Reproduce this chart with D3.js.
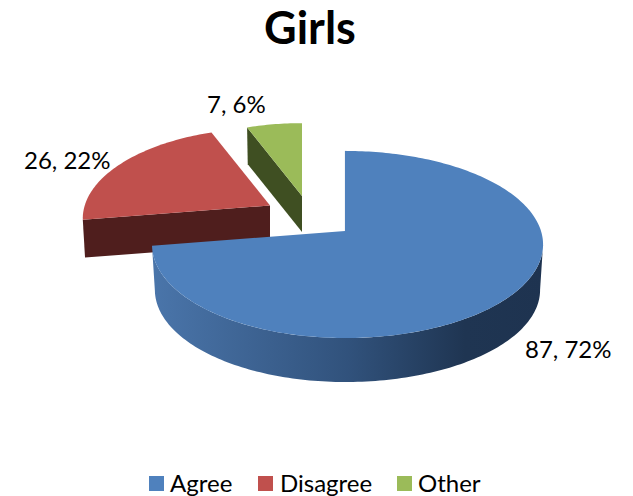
<!DOCTYPE html>
<html>
<head>
<meta charset="utf-8">
<script src="https://cdn.jsdelivr.net/npm/d3@7"></script>
<style>
  body { margin: 0; background: #fff; }
  text { font-family: Lato, "Open Sans", sans-serif; fill: #000; }
</style>
</head>
<body>
<svg id="chart" width="633" height="496"></svg>
<script>
// values
var categories = ['Agree', 'Disagree', 'Other'];
var counts = [87, 26, 7];
var percents = [72, 22, 6];
var topColors = ['#4f81bd', '#c0504d', '#9bbb59'];
var wallColors = ['#1f3552', '#4f1e1d', '#3f4f22'];

var width = 633, height = 496;
var persp = 0.144;      // how much closer the front of the pie is
var radiusY = 91.6;
var radiusL = 191, radiusR = 196;

// where each exploded slice sits, top face apex
var sliceGeo = [
    { ax: 345, ay: 231, scale: 1, depth: 45.6, lower: 0.985 },
    { ax: 270, ay: 205.5, scale: 0.97, depth: 38, lower: 0.988 },
    { ax: 302, ay: 196, scale: 0.91, depth: 36, lower: 0.988 }
];
var labelPos = [
    { x: 525, y: 358 },
    { x: 24, y: 169 },
    { x: 207, y: 113 }
];
var legendPos = [
    { x: 149, tx: 170 },
    { x: 258, tx: 280 },
    { x: 397, tx: 418 }
];

var svg = d3.select('#chart');

var pie = d3.pie().sort(null);
var slices = pie(counts);

// disk angle -> screen, bottom=true gives the lower rim
function project(geo, angle, bottom) {
    var u = Math.sin(angle), v = Math.cos(angle);
    var s = geo.scale / (1 + persp * v) * (bottom ? geo.lower : 1);
    var rx = u < 0 ? radiusL : radiusR;
    return [geo.ax + rx * u * s, geo.ay + (bottom ? geo.depth : 0) - radiusY * v * s];
}

function arcPoints(geo, a0, a1, bottom) {
    var n = Math.max(2, Math.ceil(Math.abs(a1 - a0) / 0.02));
    return d3.range(n + 1).map(function (i) {
        return project(geo, a0 + (a1 - a0) * i / n, bottom);
    });
}

var line = d3.line();

var defs = svg.append('defs');
var grad = defs.append('linearGradient')
    .attr('id', 'blueWall')
    .attr('gradientUnits', 'userSpaceOnUse')
    .attr('x1', 153).attr('x2', 543).attr('y1', 0).attr('y2', 0);
grad.append('stop').attr('offset', '0%').attr('stop-color', '#4a75aa');
grad.append('stop').attr('offset', '50%').attr('stop-color', '#31527c');
grad.append('stop').attr('offset', '80%').attr('stop-color', '#1f3552');
grad.append('stop').attr('offset', '100%').attr('stop-color', '#1e3350');

// draw back slices first, blue on top of them
[2, 1, 0].forEach(function (i) {
    var d = slices[i], geo = sliceGeo[i];
    var g = svg.append('g').attr('class', 'slice-' + categories[i]);
    var apex = [geo.ax, geo.ay];
    var apexLow = [geo.ax, geo.ay + geo.depth];

    if (i === 0) {
        // curved outer wall, from the right silhouette round to the tip
        var startWall = Math.acos(-persp);
        var upper = arcPoints(geo, startWall, d.endAngle, false);
        var lowerRim = arcPoints(geo, startWall, d.endAngle, true).reverse();
        g.append('path')
            .attr('d', line(upper.concat(lowerRim)) + 'Z')
            .attr('fill', 'url(#blueWall)');
        // thin inner wall along the vertical cut
        g.append('path')
            .attr('d', line([project(geo, d.startAngle, false), apex]))
            .attr('fill', 'none')
            .attr('stroke', wallColors[0])
            .attr('stroke-width', 1.5)
            .attr('transform', 'translate(0.7,0)');
    } else {
        // flat cut face looking at the viewer
        g.append('path')
            .attr('d', line([apex, project(geo, d.startAngle, false), project(geo, d.startAngle, true), apexLow]) + 'Z')
            .attr('fill', wallColors[i]);
    }

    g.append('path')
        .attr('d', line([apex].concat(arcPoints(geo, d.startAngle, d.endAngle, false))) + 'Z')
        .attr('fill', topColors[i]);
});

svg.append('text')
    .attr('x', 310).attr('y', 44)
    .attr('text-anchor', 'middle')
    .attr('font-size', 45)
    .attr('font-weight', 700)
    .text('Girls');

svg.selectAll('.data-label')
    .data(categories)
    .enter().append('text')
    .attr('class', 'data-label')
    .attr('x', function (d, i) { return labelPos[i].x; })
    .attr('y', function (d, i) { return labelPos[i].y; })
    .attr('font-size', 24)
    .text(function (d, i) { return counts[i] + ', ' + percents[i] + '%'; });

var legend = svg.selectAll('.legend')
    .data(categories)
    .enter().append('g')
    .attr('class', 'legend');

legend.append('rect')
    .attr('x', function (d, i) { return legendPos[i].x; })
    .attr('y', 476)
    .attr('width', 15).attr('height', 15)
    .attr('fill', function (d, i) { return topColors[i]; });

legend.append('text')
    .attr('x', function (d, i) { return legendPos[i].tx; })
    .attr('y', 492)
    .attr('font-size', 24)
    .text(function (d) { return d; });
</script>
</body>
</html>
